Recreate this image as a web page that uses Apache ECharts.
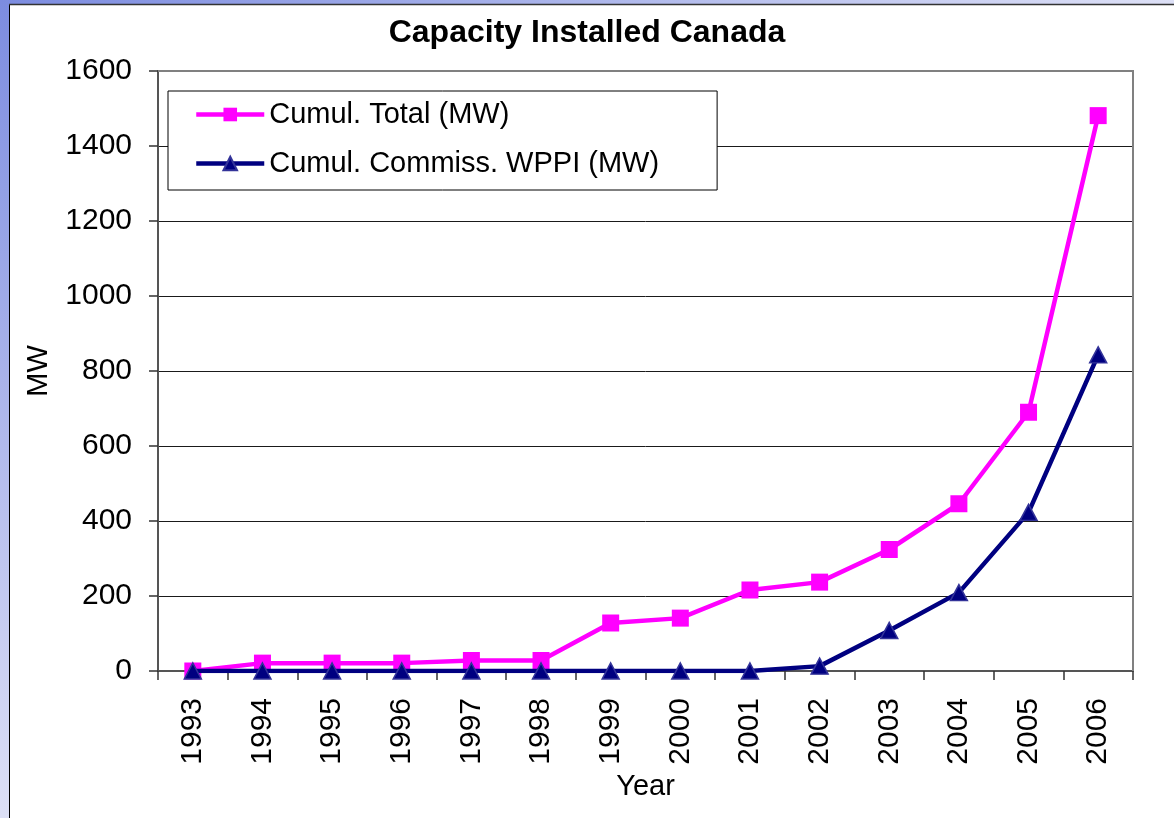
<!DOCTYPE html>
<html>
<head>
<meta charset="utf-8">
<script src="https://cdn.jsdelivr.net/npm/echarts@6/dist/echarts.min.js"></script>
<style>
  html, body { margin: 0; padding: 0; background: #fff; }
  #main { width: 1174px; height: 818px; }
</style>
</head>
<body>
<div id="main"></div>
<script type="text/javascript">
    // data
    var years = ['1993', '1994', '1995', '1996', '1997', '1998', '1999',
                 '2000', '2001', '2002', '2003', '2004', '2005', '2006'];
    var cumulTotal = [0, 21, 21, 21, 28, 28, 128, 141, 216, 237, 324, 446, 690, 1481];
    var cumulWppi = [0, 0, 0, 0, 0, 0, 0, 0, 0, 13, 108, 209, 423, 843];
    var yTicks = [0, 200, 400, 600, 800, 1000, 1200, 1400, 1600];

    var font = 'Arial, "Liberation Sans", sans-serif';
    var myChart = echarts.init(document.getElementById('main'));

    myChart.setOption({
        animation: false,
        backgroundColor: '#fff',
        // slide frame round the chart
        graphic: [
            {
                type: 'rect', left: 0, top: 0, z: -10,
                shape: { width: 9, height: 818 },
                style: {
                    fill: new echarts.graphic.LinearGradient(0, 0, 0, 1, [
                        { offset: 0, color: '#7c8ce0' },
                        { offset: 1, color: '#dde0f6' }
                    ])
                }
            },
            {
                type: 'rect', left: 0, top: 0, z: -10,
                shape: { width: 1174, height: 4 },
                style: {
                    fill: new echarts.graphic.LinearGradient(0, 0, 1, 0, [
                        { offset: 0, color: '#7c8ce0' },
                        { offset: 1, color: '#dde0f6' }
                    ])
                }
            },
            {
                type: 'line', z: -5,
                shape: { x1: 9.5, y1: 4, x2: 9.5, y2: 818 },
                style: { stroke: '#000', lineWidth: 1 }
            },
            {
                type: 'line', z: -5,
                shape: { x1: 9, y1: 4.5, x2: 1174, y2: 4.5 },
                style: { stroke: '#333', lineWidth: 1.5 }
            },
            // plot area outline (top & right)
            {
                type: 'polyline', z: 1,
                shape: { points: [[158, 71], [1133, 71], [1133, 671]] },
                style: { stroke: '#808080', lineWidth: 2, fill: null }
            }
        ],
        title: {
            text: 'Capacity Installed Canada',
            left: 'center',
            top: 12,
            textStyle: { fontFamily: font, fontSize: 32, fontWeight: 'bold', color: '#000' }
        },
        legend: {
            orient: 'vertical',
            left: 168,
            top: 91,
            padding: [9, 58, 12, 26],
            itemGap: 20,
            itemWidth: 68,
            itemHeight: 17,
            backgroundColor: '#fff',
            borderColor: '#000',
            borderWidth: 1,
            borderRadius: 0,
            lineStyle: { width: 4.5 },
            textStyle: { fontFamily: font, fontSize: 29, color: '#000' },
            data: ['Cumul. Total (MW)', 'Cumul. Commiss. WPPI (MW)']
        },
        grid: { left: 158, right: 41, top: 71, bottom: 147, containLabel: false },
        xAxis: {
            type: 'category',
            data: years,
            boundaryGap: true,
            name: 'Year',
            nameLocation: 'middle',
            nameGap: 99,
            nameTextStyle: { fontFamily: font, fontSize: 29, color: '#000' },
            axisLine: { lineStyle: { color: '#555', width: 2 } },
            axisTick: { show: true, length: 9, lineStyle: { color: '#333', width: 1.5 } },
            axisLabel: { rotate: 90, margin: 27, fontFamily: font, fontSize: 30, color: '#000' },
            splitLine: { show: false }
        },
        yAxis: {
            type: 'value',
            min: yTicks[0],
            max: yTicks[yTicks.length - 1],
            interval: yTicks[1] - yTicks[0],
            name: 'MW',
            nameLocation: 'middle',
            nameGap: 105,
            nameRotate: 90,
            nameTextStyle: { fontFamily: font, fontSize: 29, color: '#000' },
            axisLine: { show: true, lineStyle: { color: '#555', width: 2 } },
            axisTick: { show: true, length: 9, lineStyle: { color: '#333', width: 1.5 } },
            axisLabel: {
                margin: 26, fontFamily: font, fontSize: 30, color: '#000',
                formatter: function (v) { return String(v); }
            },
            splitLine: { show: true, lineStyle: { color: '#1a1a1a', width: 1 } }
        },
        series: [
            {
                name: 'Cumul. Total (MW)',
                type: 'line',
                data: cumulTotal,
                symbol: 'rect',
                symbolSize: 17,
                lineStyle: { color: '#ff00ff', width: 4.5 },
                itemStyle: { color: '#ff00ff', borderColor: '#ff00ff', borderWidth: 0 },
                z: 3
            },
            {
                name: 'Cumul. Commiss. WPPI (MW)',
                type: 'line',
                data: cumulWppi,
                symbol: 'triangle',
                symbolSize: [17, 16],
                lineStyle: { color: '#000080', width: 4.5 },
                itemStyle: { color: '#000080', borderColor: '#333399', borderWidth: 1.5 },
                z: 4
            }
        ]
    });
</script>
</body>
</html>
